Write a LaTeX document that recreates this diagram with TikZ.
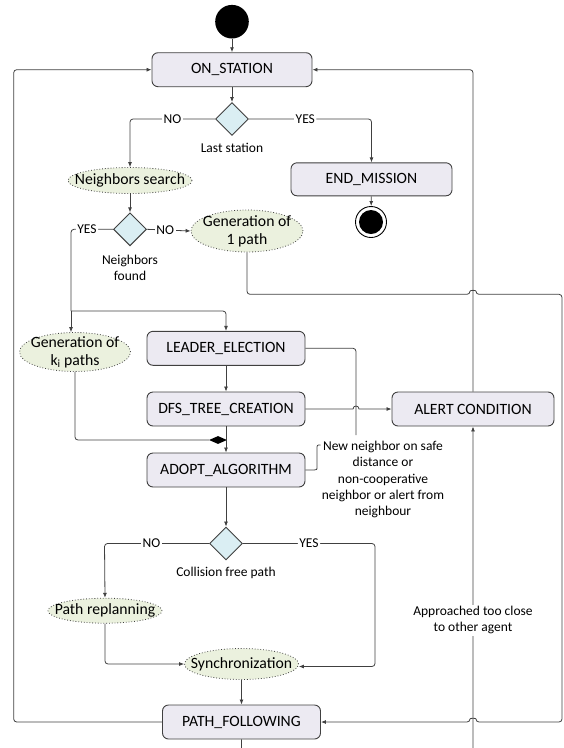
\documentclass[tikz,border=0pt]{standalone}
\usepackage{fontspec}
\setmainfont{Carlito}
\usetikzlibrary{shapes.geometric,arrows.meta,calc}
\definecolor{boxfill}{HTML}{ECEAF2}
\definecolor{dfill}{HTML}{DAEEF3}
\definecolor{efill}{HTML}{EBF1DE}
\definecolor{lc}{HTML}{404040}
\begin{document}
\begin{tikzpicture}[x=1pt,y=-1pt,
  line/.style={draw=lc,line width=0.8pt},
  arr/.style={line,-{Latex[length=5pt,width=4pt]}},
  state/.style={draw=lc,line width=0.9pt,fill=boxfill,rounded corners=6pt,minimum width=158pt,minimum height=34pt,inner sep=0pt,font=\fontsize{15.7}{18}\selectfont},
  dec/.style={diamond,draw=lc,line width=0.9pt,fill=dfill,minimum width=33pt,minimum height=33pt,inner sep=0pt},
  act/.style={ellipse,draw=lc,dotted,line width=0.8pt,fill=efill,inner sep=0pt},
  acttext/.style={font=\fontsize{15.7}{18}\selectfont,align=center,inner sep=0pt},
  lbl/.style={font=\fontsize{13.5}{16.3}\selectfont,align=center,inner sep=1pt},
  onl/.style={lbl,fill=white,inner sep=1.5pt},
]
\useasboundingbox (0,0) rectangle (564,748);

% nodes
\node[circle,fill=black,minimum size=33.6pt,inner sep=0pt] (start) at (232,21.7) {};
\node[state,minimum width=160pt] (on) at (232,69.7) {ON\_STATION};
\node[dec] (d1) at (232,119) {};
\node[lbl] (d1l) at (232,147.7) {Last station};
\node[state,minimum width=161pt,minimum height=33pt] (end) at (371.5,179.3) {END\_MISSION};
\node[circle,draw=black,line width=0.9pt,minimum size=31pt,inner sep=0pt] (fin) at (371,222) {};
\node[circle,fill=black,minimum size=24pt,inner sep=0pt] (finin) at (fin) {};

\node[act,minimum width=124pt,minimum height=26pt] (ns) at (130,180.5) {};
\node[acttext] (nst) at (ns) {Neighbors search};
\node[dec] (d2) at (130,229.3) {};
\node[lbl] (d2l) at (130,267.7) {Neighbors\\found};
\node[act,minimum width=112pt,minimum height=42pt] (g1) at (247,231) {};
\node[acttext] (g1t) at (g1) {Generation of\\1 path};
\node[act,minimum width=111pt,minimum height=39pt] (gk) at (75,352) {};
\node[acttext] (gkt) at (gk) {Generation of\\k\textsubscript{i} paths};

\node[state] (le) at (226,348.3) {LEADER\_ELECTION};
\node[state] (dfs) at (226,409) {DFS\_TREE\_CREATION};
\node[state,minimum width=162pt] (al) at (473,409) {ALERT CONDITION};
\node[diamond,fill=black,minimum width=18pt,minimum height=8pt,inner sep=0pt] (mg) at (218,440) {};
\node[state] (ad) at (226,470) {ADOPT\_ALGORITHM};
\node[lbl] (nn) at (383,479.5) {New neighbor on safe\\distance or\\non-cooperative\\neighbor or alert from\\neighbour};

\node[dec] (d3) at (226,543.5) {};
\node[lbl] (d3l) at (226,572.7) {Collision free path};
\node[act,minimum width=114pt,minimum height=25pt] (pr) at (105,610.7) {};
\node[acttext] (prt) at (pr) {Path replanning};
\node[act,minimum width=114pt,minimum height=31pt] (sy) at (241.5,664) {};
\node[acttext] (syt) at (sy) {Synchronization};
\node[state] (pf) at (241.5,722) {PATH\_FOLLOWING};

\coordinate (fk) at (71,311);
\coordinate (leend) at (356,435);
\coordinate (nnl) at (320.5,445);

% connectors
\draw[arr] (start) -- (on);
\draw[arr] (on) -- (d1);
\draw[arr,rounded corners=3pt] (d1.west) -- node[onl]{NO} (130,119) -- (ns.north);
\draw[arr,rounded corners=3pt] (d1.east) -- node[onl,pos=0.46]{YES} (371.5,119) -- (end.north);
\draw[arr] (end) -- (fin);
\draw[arr] (ns) -- (d2);
\draw[arr] (d2.east) -- node[onl,pos=0.42]{NO} (g1.west);
\draw[line,rounded corners=3pt] (d2.west) -- node[onl,pos=0.62]{YES} (fk |- d2.west) -- (fk);
\draw[arr] (fk) -- (fk |- gk.north);
\draw[arr,rounded corners=3pt] (fk) -| (le.north);
\draw[arr,rounded corners=3pt] (g1.south) -- (247,294.3) -- (470,294.3)
  .. controls (470,290) and (476,290) .. (476,294.3) -- (562,294.3) -- (562,722)
  -- (476,722) .. controls (476,718) and (470,718) .. (470,722) -- (pf.east);
\draw[arr] (le) -- (dfs);
\draw[arr] (dfs.east) -- (353,409) .. controls (353,405) and (359,405) .. (359,409) -- (al.west);
\draw[line,rounded corners=3pt] (le.east) -| (leend);
\draw[line,rounded corners=3pt] (gk.south) |- (mg.west);
\draw[arr] (dfs.south) -- (ad.north);
\draw[line] (ad.east) -- (314,470) .. controls (317,470) .. (317,466) -- (317,449) .. controls (317,445) .. (nnl);
\draw[arr] (ad) -- (d3);
\draw[arr,rounded corners=3pt] (d3.west) -- node[onl,pos=0.55]{NO} (104.5,543.5) -- (pr.north);
\draw[arr,rounded corners=3pt] (d3.east) -- node[onl]{YES} (375,543.5) -- (375,666.5) -- (sy.east |- 0,666.5);
\draw[arr,rounded corners=3pt] (pr.south) |- (sy.west);
\draw[arr] (sy) -- (pf);
\draw[arr,rounded corners=3pt] (pf.west) -- (13.7,722) -- (13.7,69.7) -- (on.west);
\draw[arr,rounded corners=3pt] (al.north) |- (on.east);
\draw[arr,rounded corners=3pt] (pf.south) -- (241.5,760) -| (al.south);
\node[onl] (ap) at (473,620) {Approached too close\\to other agent};
\end{tikzpicture}
\end{document}
